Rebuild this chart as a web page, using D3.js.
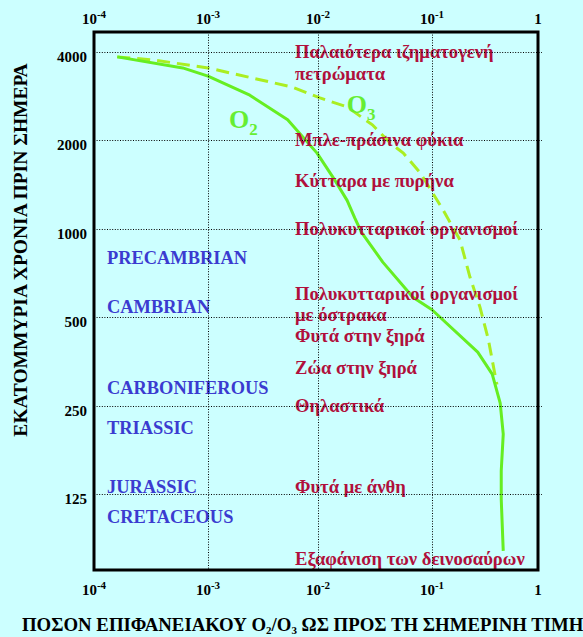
<!DOCTYPE html>
<html><head><meta charset="utf-8">
<script src="https://cdn.jsdelivr.net/npm/d3@7"></script>
<style>
html,body{margin:0;padding:0;background:#ccffff;}
svg{display:block;}
text{font-family:"Liberation Serif","Times New Roman",serif;font-weight:bold;}
</style></head>
<body>
<script>
// ---- data ----
const xTickValues = [1e-4, 1e-3, 1e-2, 1e-1, 1];
const xTickExponents = ["-4", "-3", "-2", "-1", ""];
const yTickValues = [4000, 2000, 1000, 500, 250, 125];

// O2 surface amount (fraction of today) vs million years ago
const o2Amount = [1.6e-4, 6.0e-4, 1.0e-3, 2.4e-3, 5.3e-3, 9.8e-3, 0.0135, 0.018, 0.021, 0.024, 0.037, 0.068, 0.1, 0.27, 0.37, 0.44, 0.47, 0.45, 0.45, 0.47];
const o2Age    = [3850, 3530, 3310, 2850, 2350, 1810, 1500, 1250, 1090, 975, 770, 585, 530, 380, 320, 255, 200, 150, 120, 80];
// O3
const o3Amount = [1.6e-4, 3.3e-4, 1.0e-3, 5.8e-3, 0.0104, 0.018, 0.030, 0.043, 0.056, 0.079, 0.127, 0.184, 0.228, 0.284, 0.34, 0.39, 0.41];
const o3Age    = [3850, 3760, 3530, 3040, 2790, 2600, 2260, 1960, 1810, 1550, 1160, 915, 685, 540, 420, 323, 295];

// events (red) : text lines and age
const eventLines = [
  ["Παλαιότερα ιζηματογενή", "πετρώματα"],
  ["Μπλε-πράσινα φύκια"],
  ["Κύτταρα με πυρήνα"],
  ["Πολυκυτταρικοί οργανισμοί"],
  ["Πολυκυτταρικοί οργανισμοί", "με όστρακα"],
  ["Φυτά στην ξηρά"],
  ["Ζώα στην ξηρά"],
  ["Θηλαστικά"],
  ["Φυτά με άνθη"],
  ["Εξαφάνιση των δεινοσαύρων"]
];
const eventAge = [4000, 2000, 1450, 1000, 600, 430, 335, 250, 132, 75];

// geological periods (blue)
const periodNames = ["PRECAMBRIAN", "CAMBRIAN", "CARBONIFEROUS", "TRIASSIC", "JURASSIC", "CRETACEOUS"];
const periodAge = [800, 542, 287, 211, 133, 105];

// ---- layout ----
const W = 583, H = 637;
const L = 94, R = 538, T = 32, B = 570;
const red = "#b0103c", blue = "#3b3bd0", o2c = "#66ee22", o3c = "#aaee22";

const svg = d3.select("body").append("svg").attr("width", W).attr("height", H);
svg.append("rect").attr("width", W).attr("height", H).attr("fill", "#ccffff");

const x = d3.scaleLog().domain(xTickValues).range([94, 208, 318, 432, 538]);
const y = d3.scaleLog().domain([4000, 125]).range([52, 494]);

// curves (drawn first, texts lie over them)
const line = d3.line().x(d => x(d[0])).y(d => y(d[1]));
const o3Data = o3Amount.map((v, i) => [v, o3Age[i]]);
const o2Data = o2Amount.map((v, i) => [v, o2Age[i]]);
svg.append("path").datum(o3Data).attr("d", line).attr("fill", "none")
  .attr("stroke", o3c).attr("stroke-width", 3).attr("stroke-dasharray", "13,7");
svg.append("path").datum(o2Data).attr("d", line).attr("fill", "none")
  .attr("stroke", o2c).attr("stroke-width", 3).attr("stroke-linejoin", "round");

// curve labels
function molLabel(xv, yv, sub) {
  const t = svg.append("text").attr("x", x(xv)).attr("y", y(yv)).attr("fill", "#66ee33").attr("font-size", 26);
  t.append("tspan").text("O");
  t.append("tspan").attr("dy", 7).attr("font-size", 17).text(sub);
}
molLabel(1.55e-3, 2200, "2");
molLabel(0.0179, 2480, "3");

// event labels
const ev = svg.append("g").attr("fill", red).attr("font-size", 18.6);
eventLines.forEach((lines, i) => {
  lines.forEach((s, j) => {
    ev.append("text").attr("x", 295).attr("y", y(eventAge[i]) + 6 + j * 21.5).text(s);
  });
});

// period labels
svg.append("g").attr("fill", blue).attr("font-size", 18.4)
  .selectAll("text").data(periodNames).join("text")
  .attr("x", 107).attr("y", (d, i) => y(periodAge[i]) + 6.5).text(d => d);

// gridlines
const grid = svg.append("g").attr("stroke", "#000").attr("stroke-width", 1).attr("stroke-dasharray", "1,1.6");
grid.selectAll("line.v").data(xTickValues.slice(1, -1)).join("line")
  .attr("x1", d => Math.round(x(d)) + 0.5).attr("x2", d => Math.round(x(d)) + 0.5)
  .attr("y1", T).attr("y2", B);
grid.selectAll("line.h").data(yTickValues).join("line")
  .attr("x1", L).attr("x2", R + 4)
  .attr("y1", d => Math.round(y(d)) + 0.5).attr("y2", d => Math.round(y(d)) + 0.5);

// y tick labels
svg.append("g").selectAll("text").data(yTickValues).join("text")
  .attr("x", 87).attr("y", d => y(d) + 10).attr("text-anchor", "end")
  .attr("font-size", 15).attr("fill", "#000").text(d => d);

// x tick labels top & bottom
[24, 595].forEach(base => {
  const g = svg.append("g");
  xTickValues.forEach((v, i) => {
    const t = g.append("text").attr("x", x(v)).attr("y", base).attr("text-anchor", "middle")
      .attr("font-size", 15).attr("fill", "#000");
    if (xTickExponents[i] === "") { t.text("1"); }
    else {
      t.append("tspan").text("10");
      t.append("tspan").attr("dy", -6).attr("font-size", 11).text(xTickExponents[i]);
    }
  });
});

// frame
svg.append("rect").attr("x", L).attr("y", T).attr("width", R - L).attr("height", B - T)
  .attr("fill", "none").attr("stroke", "#000").attr("stroke-width", 3);

// axis titles
const xt = svg.append("text").attr("x", 22).attr("y", 631).attr("font-size", 18.8).attr("fill", "#000");
xt.append("tspan").text("ΠΟΣΟΝ ΕΠΙΦΑΝΕΙΑΚΟΥ O");
xt.append("tspan").attr("dy", 3).attr("font-size", 11).text("2");
xt.append("tspan").attr("dy", -3).text("/O");
xt.append("tspan").attr("dy", 3).attr("font-size", 11).text("3");
xt.append("tspan").attr("dy", -3).text(" ΩΣ ΠΡΟΣ ΤΗ ΣΗΜΕΡΙΝΗ ΤΙΜΗ");

svg.append("text").attr("transform", "translate(27,250) rotate(-90)")
  .attr("text-anchor", "middle").attr("font-size", 19.5).attr("fill", "#000")
  .text("ΕΚΑΤΟΜΜΥΡΙΑ ΧΡΟΝΙΑ ΠΡΙΝ ΣΗΜΕΡΑ");
</script>
</body></html>
